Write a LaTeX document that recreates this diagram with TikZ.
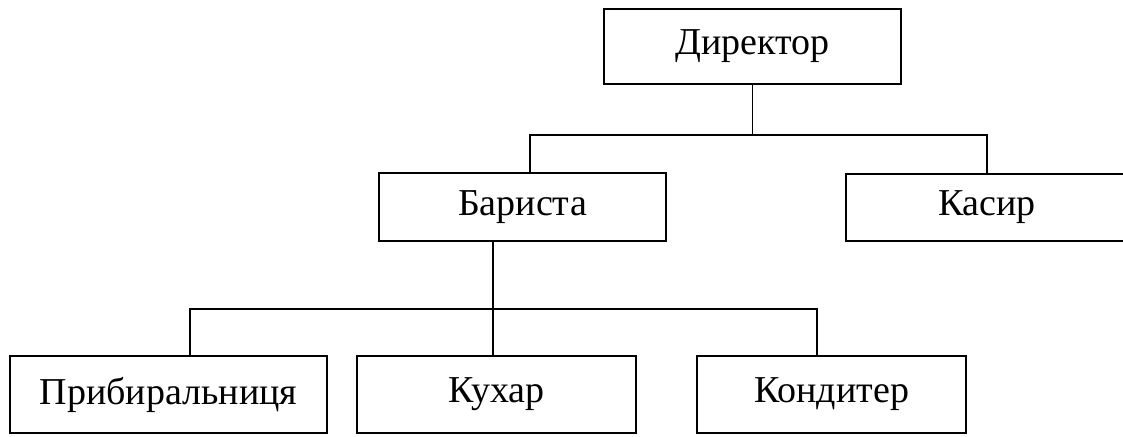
\documentclass[tikz,border=0pt]{standalone}
\usepackage{fontspec}
\setmainfont{Liberation Serif}
\begin{document}
\begin{tikzpicture}[x=0.75pt,y=-0.75pt,
  box/.style={draw,line width=1.3pt,rectangle,inner sep=0pt,font=\fontsize{28.5}{32}\selectfont},
  conn/.style={line width=1.2pt}]
\useasboundingbox (0,0) rectangle (1123,436);
\node[box,minimum width=297*0.75pt,minimum height=75*0.75pt] (dir) at (752.5,46.5) {Директор};
\node[box,minimum width=287*0.75pt,minimum height=68*0.75pt] (bar) at (522.5,207) {Бариста};
\node[box,minimum width=282*0.75pt,minimum height=67*0.75pt] (kas) at (987,207.5) {Касир};
\node[box,minimum width=317*0.75pt,minimum height=77*0.75pt] (pr) at (168.5,394.5) {Прибиральниця};
\node[box,minimum width=279*0.75pt,minimum height=77*0.75pt] (kuh) at (496.5,394.5) {Кухар};
\node[box,minimum width=269*0.75pt,minimum height=77*0.75pt] (kon) at (831.5,394.5) {Кондитер};
\coordinate (h1) at (752.5,135);
\coordinate (h2) at (493,309);
\draw[conn] (dir.south) -- (h1);
\draw[conn] ([xshift=5.6pt]bar.north) |- (h1) -| (kas.north);
\draw[conn] ([xshift=-22.1pt]bar.south) -- (h2);
\draw[conn] ([xshift=16.1pt]pr.north) |- (h2) -| ([xshift=-10.9pt]kon.north);
\draw[conn] (h2) -- (h2 |- kuh.north);
\end{tikzpicture}
\end{document}
